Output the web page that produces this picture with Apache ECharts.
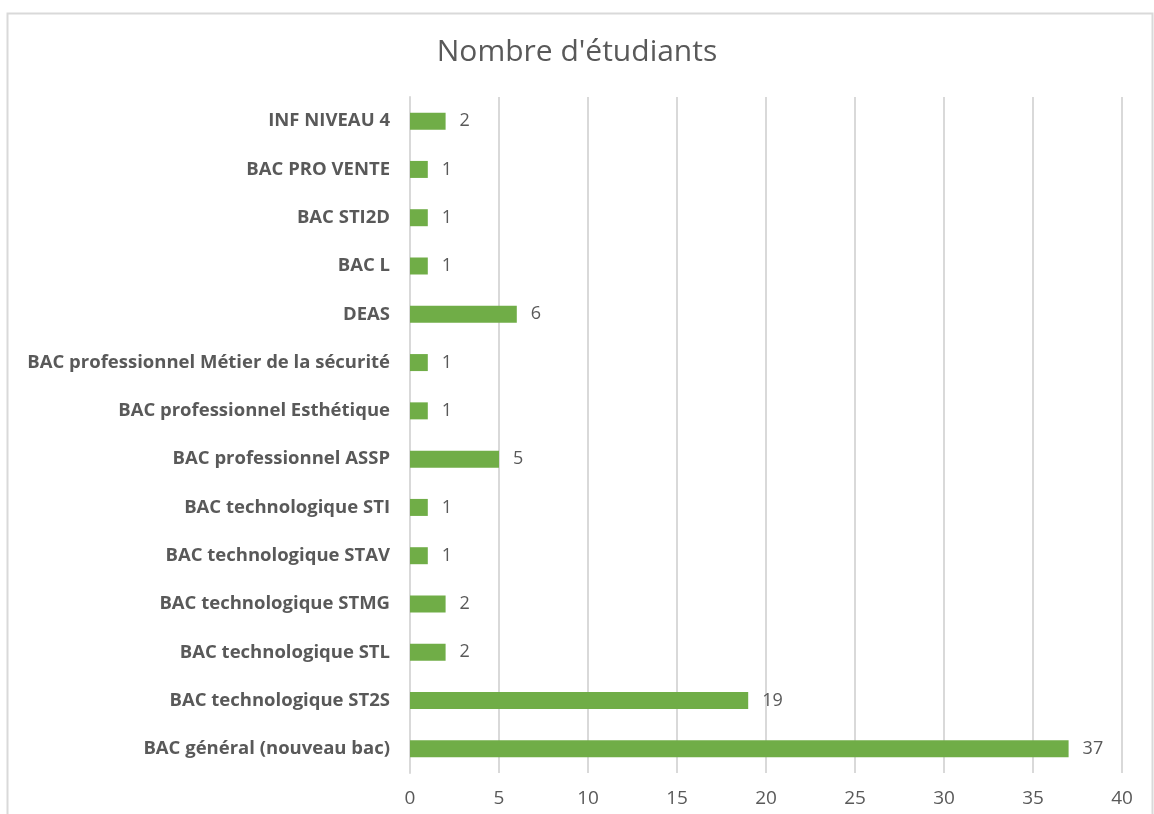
<!DOCTYPE html>
<html>
<head>
<meta charset="utf-8">
<script src="https://cdn.jsdelivr.net/npm/echarts@6/dist/echarts.min.js"></script>
<style>
  html, body { margin: 0; padding: 0; background: #fff; }
  #chart { width: 1154px; height: 814px; }
</style>
</head>
<body>
<div id="chart"></div>
<script>
// Categories, bottom to top (same order as the category axis)
let diplomes = [
	'BAC général (nouveau bac)',
	'BAC technologique ST2S',
	'BAC technologique STL',
	'BAC technologique STMG',
	'BAC technologique STAV',
	'BAC technologique STI',
	'BAC professionnel ASSP',
	'BAC professionnel Esthétique',
	'BAC professionnel Métier de la sécurité',
	'DEAS',
	'BAC L',
	'BAC STI2D',
	'BAC PRO VENTE',
	'INF NIVEAU 4'
];
let etudiants = [37, 19, 2, 2, 1, 1, 5, 1, 1, 6, 1, 1, 1, 2];
let titre = "Nombre d'étudiants";

var chart = echarts.init(document.getElementById('chart'));

var fontFam = '"Open Sans", "Noto Sans", sans-serif';

var option = {
	animation: false,
	textStyle: { fontFamily: fontFam },

	// Outer frame of the chart
	graphic: [{
		type: 'rect',
		shape: { x: 7.5, y: 13.5, width: 1145, height: 820 },
		style: { fill: 'none', stroke: '#d9d9d9', lineWidth: 2 },
		silent: true
	}],

	title: {
		text: titre,
		left: 'center',
		top: 32,
		textStyle: {
			fontFamily: fontFam,
			fontSize: 30,
			fontWeight: 'normal',
			color: '#595959'
		}
	},

	grid: {
		left: 410,
		right: 32,
		top: 97,
		bottom: 41,
		containLabel: false
	},

	xAxis: {
		type: 'value',
		min: 0,
		max: 40,
		interval: 5,
		axisLine: { show: false },
		axisTick: { show: false },
		axisLabel: {
			color: '#595959',
			fontSize: 19,
			margin: 16,
			fontFamily: fontFam
		},
		splitLine: {
			show: true,
			lineStyle: { color: '#d9d9d9', width: 2 }
		}
	},

	yAxis: {
		type: 'category',
		data: diplomes,
		axisLine: {
			show: true,
			lineStyle: { color: '#d9d9d9', width: 2 }
		},
		axisTick: { show: false },
		axisLabel: {
			color: '#595959',
			fontSize: 18.5,
			fontWeight: 'bold',
			margin: 20,
			fontFamily: fontFam
		}
	},

	series: [{
		name: titre,
		type: 'bar',
		data: etudiants,
		barWidth: 17,
		itemStyle: { color: '#70AD47' },
		label: {
			show: true,
			position: 'right',
			distance: 14,
			color: '#595959',
			fontSize: 18,
			fontFamily: fontFam
		}
	}]
};

chart.setOption(option);
</script>
</body>
</html>
